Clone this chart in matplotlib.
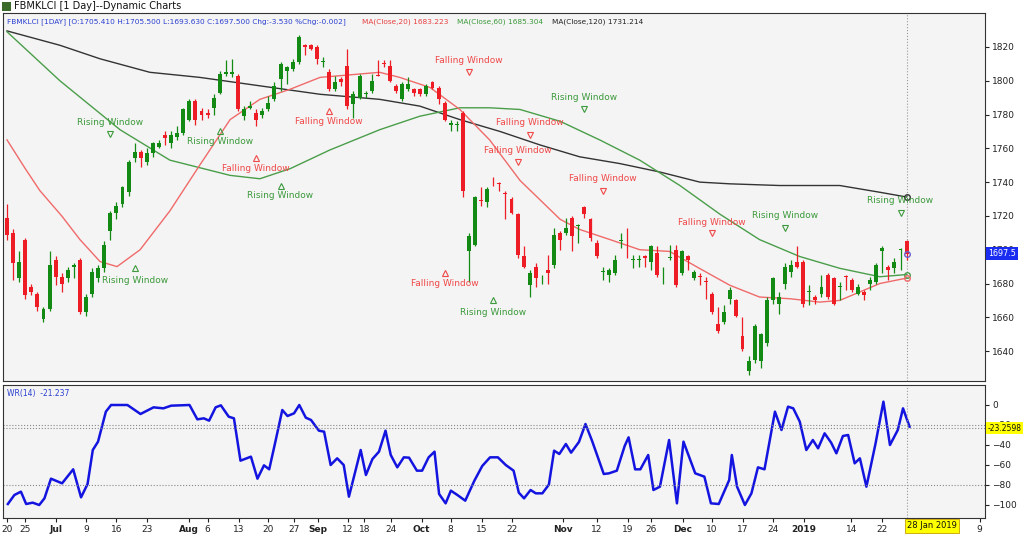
import numpy as np
import matplotlib
matplotlib.use("Agg")
import matplotlib.pyplot as plt

# ---------------- data ----------------
opens = [1719,1710,1683,1706,1678,1674,1659,1665,1694,1684,1683,1690,1694,1663,1674,1683,1689,1711,1722,1727,
         1734,1754,1758,1752,1757,1761,1768,1763,1767,1769,1777,1788,1782,1781,1784,1793,1804,1804,1803,1779,
         1784,1781,1780,1783,1789,1801,1806,1807,1811,1821,1821,1820,1811,1805,1795,1801,1809,1786,1790,1792,
         1794,1803.5,1810.5,1809,1797,1789,1795,1795,1795,1792,1799,1796,1787,1774,1774,1781,1699,1703,1729.5,1728,
         1741.5,1739.5,1733.5,1730,1721,1696,1679,1690,1683,1688,1691,1710,1710,1719,1714,1725,1718,1704,1687,1685,
         1686,1705,1712.5,1694,1694,1696,1693,1698,1686,1695,1700,1686,1696,1683,1684.5,1681.5,1674,1656,1657,1671,
         1670,1649,1628,1635,1634,1645,1670,1668,1680,1687,1693,1693,1675,1672,1674,1685,1683,1678,1684.5,1682,
         1674,1675,1680,1681,1699,1690,1689,1700,1705.41]
closes = [1709,1692,1693,1673,1675,1666,1665,1691,1684,1680,1688,1691,1663,1672,1687,1689,1703,1722,1726,1737,
          1752,1758,1754,1757,1763,1763,1766,1768,1769,1783,1788,1777,1780,1780,1790,1804,1805,1805,1783,1783,
          1785,1777,1782,1787,1797,1810,1808,1811,1826,1820,1819,1813,1811.5,1795,1799,1799,1785,1792,1803,1792.5,
          1800,1803,1810,1800,1794,1798,1798,1793,1792,1797,1796,1789,1777,1775,1774.5,1735,1708,1731,1729,1736,
          1741,1739,1733,1722,1697,1690,1686,1683,1683.5,1686,1709,1706,1713,1708,1714.5,1721,1707,1696,1687.5,1688,
          1694,1705.5,1712,1694.5,1694.5,1695,1702,1685,1686.5,1695.5,1679,1699,1694,1687,1684,1681,1663,1652,1663,1676,
          1661,1641,1634,1655,1650,1670,1683,1672,1690,1691,1690,1668,1675.5,1670,1678,1672,1668,1678.5,1684,1676,
          1678,1673,1682,1691,1701,1688,1693,1700.5,1697.5]
highs = [1727,1712,1699,1707,1680,1675,1666,1699,1696,1686,1690,1692,1695,1674,1689,1691,1705,1723,1728,1738,
         1753,1763,1759,1760,1764,1765,1770,1770,1773,1784,1789,1789,1784,1783,1792,1806,1812,1813,1804,1785,
         1788,1783,1784,1791,1799,1811,1809,1813,1827,1822,1822,1821,1814,1807,1803,1802,1819,1794,1804,1794,
         1804,1812,1812,1812,1798,1799,1802,1796,1796,1798,1800,1797,1788,1777,1776,1782,1710,1732,1737,1737,
         1743,1740,1735,1731,1722,1702,1688,1692,1685,1697,1713,1711,1719,1720,1715,1726,1719,1706,1690,1689,
         1697,1710,1713,1697,1697,1697,1703,1702,1690,1703,1703,1700,1697,1688,1686,1684,1675,1666,1667,1678,
         1671,1660,1637,1656,1651,1672,1684,1675,1692,1694,1702,1694,1679,1673,1685,1686,1684,1681,1685,1683,
         1680,1676,1684,1692,1702,1691,1695,1701,1705.5]
lows = [1706,1682,1681,1671,1673,1664,1657,1664,1679,1675,1681,1683,1662,1661,1672,1681,1687,1706,1718,1725,
        1732,1752,1749,1750,1755,1760,1762,1760,1765,1768,1776,1774,1777,1778,1780,1792,1803,1802,1782,1777,
        1783,1773,1778,1782,1788,1794,1798,1806,1810,1815,1818,1810,1808,1794,1794,1797,1783,1778,1789,1790,
        1793,1803,1808,1799,1793,1788,1794,1791,1791,1791,1795,1786,1776,1770,1770,1731,1681,1702,1726,1725,
        1738,1735,1718,1721,1695,1689,1672,1678,1680,1680,1689,1700,1709,1699,1704,1719,1705,1695,1682,1681,
        1685,1701,1695,1689,1690,1690,1688,1684,1680,1694,1678,1685,1688,1682,1679,1671,1662,1651,1656,1668,
        1660,1640,1626,1633,1630,1643,1668,1662,1677,1684,1689,1666,1667,1668,1672,1671,1667,1670,1676,1675,
        1673,1670,1676,1680,1686,1682,1686,1688,1693.63]

ma20_idx = [0, 3, 5.4, 9, 12, 15.3, 18.1, 21.9, 26.8, 31.7, 36.7, 41.6, 46.6, 51.5, 54.8, 61.3, 64.6, 69.6, 74.5,
            79.4, 84.4, 91, 94.2, 99.2, 104.1, 109, 113.9, 118.9, 123.8, 128.8, 133.7, 137, 140.3, 143.6, 148]
ma20_val = [1765, 1748, 1735, 1720, 1706, 1693, 1690, 1700, 1723, 1750, 1777, 1789, 1795, 1802, 1803, 1805, 1802,
            1796, 1783, 1765, 1741, 1718, 1712, 1706, 1700, 1699, 1689, 1679, 1672, 1671, 1669, 1670, 1675, 1680,
            1683.2]
ma60_idx = [0, 8.7, 18.6, 26.8, 36.7, 41.6, 46.6, 53.1, 61.3, 67.9, 74.5, 79.4, 84.4, 91, 97.5, 104.1, 110.7,
            117.3, 123.8, 130.4, 137, 143.6, 148]
ma60_val = [1829, 1800, 1771, 1753, 1744, 1742, 1748, 1759, 1771, 1779, 1784, 1784, 1783, 1776, 1765, 1753, 1738,
            1721, 1706, 1696, 1689, 1684, 1685.3]
ma120_idx = [0, 8.7, 15.3, 23.5, 31.7, 41.6, 51.5, 61.3, 67.9, 74.5, 81.1, 87.7, 94.2, 100.8, 107.4, 114,
             118.9, 127.1, 137, 143.6, 148]
ma120_val = [1829.5, 1821, 1813, 1805, 1802, 1797, 1792, 1789, 1785, 1777, 1770, 1762, 1755, 1751, 1746, 1740,
             1739, 1738, 1738, 1734, 1731.2]

wr_xz = [12,22,32,40,50,60,68,78,95,112,124,134,142,150,162,170,195,215,235,250,262,290,302,312,320,330,338,350,
         358,368,384,394,404,412,422,432,440,450,458,468,476,488,496,506,516,526,534,552,560,570,580,590,598,608,
         618,626,638,646,656,665,672,682,690,700,712,726,738,750,762,774,786,794,802,812,820,830,840,848,856,866,
         874,886,896,906,924,932,944,956,962,972,980,992,1000,1010,1024,1036,1046,1064,1078,1088,1100,1116,1120,
         1128,1140,1150,1160,1170,1186,1196,1206,1214,1224,1234,1244,1252,1262,1272,1280,1290,1298,1308,1316,1326,
         1340,1352,1362,1374,1382,1392]
wr_yz = [372,345,335,372,368,375,355,296,310,268,352,312,210,185,95,75,75,102,82,85,77,75,118,115,122,82,76,110,
         115,242,230,296,256,268,180,90,108,100,75,113,120,152,155,255,235,255,350,210,285,237,215,152,225,262,
         232,233,272,272,232,215,342,370,332,345,362,302,258,232,232,255,272,338,355,330,340,340,314,212,222,192,
         218,186,132,182,282,280,272,198,172,268,268,225,330,320,180,370,185,280,290,370,372,300,225,320,375,340,
         262,268,95,150,80,85,125,210,180,205,160,188,220,168,165,250,235,320,190,65,195,150,85,140]
wr_idx = [(x / 1.53 - 7) / 6.08 for x in wr_xz]
wr_val = [-(y - 75) / 3.0 for y in wr_yz]

tick_pos = [0, 3, 8, 13, 18, 23, 30, 33, 38.1, 43, 47.2, 51.2, 56.1, 58.8, 63.1, 68.2, 73, 78.1, 83, 91.5, 97,
            102.1, 106, 111.2, 116, 121.1, 126, 131.1, 138.9, 144, 149, 160]
tick_lab = ["20", "25", "Jul", "9", "16", "23", "Aug", "6", "13", "20", "27", "Sep", "12", "18", "24", "Oct", "8",
            "15", "22", "Nov", "12", "19", "26", "Dec", "10", "17", "24", "2019", "14", "22", "2", "9"]
bold_lab = {"Jul", "Aug", "Sep", "Oct", "Nov", "Dec", "2019"}

patterns = [
    ("Rising Window", 17, 1775, 1768.5, "v"), ("Rising Window", 35, 1764, 1770, "^"),
    ("Falling Window", 41, 1748, 1754, "^"), ("Falling Window", 53, 1776, 1782, "^"),
    ("Rising Window", 45, 1732, 1738, "^"), ("Falling Window", 76, 1812, 1805, "v"),
    ("Rising Window", 95, 1790, 1783, "v"), ("Falling Window", 86, 1775, 1768, "v"),
    ("Falling Window", 84, 1759, 1752, "v"), ("Falling Window", 98, 1742, 1735, "v"),
    ("Falling Window", 116, 1716, 1710, "v"), ("Rising Window", 128, 1720, 1713, "v"),
    ("Rising Window", 147, 1729, 1722, "v"), ("Falling Window", 72, 1680, 1686, "^"),
    ("Rising Window", 80, 1663, 1670, "^"), ("Rising Window", 21, 1682, 1689, "^"),
]

GREEN = "#138a13"
RED = "#ee1c25"
BG = "#f4f4f4"

fig = plt.figure(figsize=(10.24, 5.45), dpi=100)
fig.patch.set_facecolor("white")
W, H = 1024, 545

def rect(l, t, r, b):
    return [l / W, 1 - b / H, (r - l) / W, (b - t) / H]

ax = fig.add_axes(rect(3, 13, 985, 381))
ax2 = fig.add_axes(rect(3, 385, 985, 518), sharex=ax)
for a in (ax, ax2):
    a.set_facecolor(BG)
    for s in a.spines.values():
        s.set_color("#333333")
        s.set_linewidth(0.8)

n = len(closes)
idx = np.arange(n)
o = np.array(opens); c = np.array(closes); hi = np.array(highs); lo = np.array(lows)
up = c >= o
cols = np.where(up, GREEN, RED)
ax.vlines(idx, lo, hi, colors=cols, linewidth=0.9, zorder=3)
ax.bar(idx, np.maximum(np.abs(c - o), 0.5), bottom=np.minimum(o, c), width=0.65, color=cols,
       linewidth=0, zorder=4)

ax.plot(ma120_idx, ma120_val, color="#333333", lw=1.0, zorder=2)
ax.plot(ma60_idx, ma60_val, color="#4a9e4a", lw=1.0, zorder=2)
ax.plot(ma20_idx, ma20_val, color="#f06a6a", lw=1.0, zorder=2)
for xs, vs, col in ((ma120_idx, ma120_val, "#333333"), (ma60_idx, ma60_val, "#4a9e4a"),
                    (ma20_idx, ma20_val, "#f06a6a")):
    ax.plot(xs[-1], vs[-1], "o", ms=4, mfc="none", mec=col, zorder=5)
ax.plot(n - 1, c[-1], "o", ms=4, mfc="none", mec="#6a5acd", zorder=5)

for txt, i, tp, mp, d in patterns:
    col = "#3c9a3c" if txt.startswith("Rising") else "#f04848"
    ax.text(i, tp, txt, color=col, fontsize=6.5, ha="center", va="center", zorder=6)
    ax.plot(i, mp, marker=d, ms=5, mfc="none", mec=col, mew=0.8, zorder=6)

ax.set_xlim(-0.66, 160.9)
ax.set_ylim(1622.3, 1840.1)
ax.yaxis.tick_right()
ax.set_yticks(range(1640, 1821, 20))
ax.tick_params(axis="y", labelsize=6.5, length=3, pad=2, colors="#222222")
ax.tick_params(axis="x", bottom=False, labelbottom=False)
ax.axvline(n - 1, color="#999999", ls=":", lw=0.8)

t0 = ax.text(0.004, 0.985,
             "FBMKLCI [1DAY] [O:1705.410 H:1705.500 L:1693.630 C:1697.500 Chg:-3.530 %Chg:-0.002]",
             transform=ax.transAxes, fontsize=5.3, color="#2a3fd0", va="top")
t1 = ax.annotate("MA(Close,20) 1683.223", xy=(1, 0), xycoords=t0, xytext=(12, 0), textcoords="offset points",
                 fontsize=5.3, color="#e84040", va="bottom")
t2 = ax.annotate("MA(Close,60) 1685.304", xy=(1, 0), xycoords=t1, xytext=(6, 0), textcoords="offset points",
                 fontsize=5.3, color="#3c9a3c", va="bottom")
ax.annotate("MA(Close,120) 1731.214", xy=(1, 0), xycoords=t2, xytext=(6, 0), textcoords="offset points",
            fontsize=5.3, color="#222222", va="bottom")
ax.text(1.003, 1697.5, "1697.5", transform=ax.get_yaxis_transform(), fontsize=5.8, color="white",
        va="center", ha="left",
        bbox=dict(boxstyle="square,pad=0.25", fc="#1a2cf0", ec="none"), zorder=10)

fig.text(14 / W, 1 - 6 / H, "FBMKLCI [1 Day]--Dynamic Charts", fontsize=7, va="center", color="#111111")
fig.patches.append(plt.Rectangle((2 / W, 1 - 11 / H), 9 / W, 9 / H, transform=fig.transFigure,
                                 fc="#3a6b2a", ec="none"))

# WR panel
ax2.plot(wr_idx, wr_val, color="#1414e0", lw=1.8)
ax2.axhline(-20, color="#888888", ls=":", lw=0.8)
ax2.axhline(-80, color="#888888", ls=":", lw=0.8)
ax2.axhline(-23.26, color="#888888", ls=":", lw=0.8)
ax2.axvline(n - 1, color="#999999", ls=":", lw=0.8)
ax2.set_ylim(-113, 20)
ax2.yaxis.tick_right()
ax2.set_yticks([0, -20, -40, -60, -80, -100])
ax2.tick_params(axis="y", labelsize=6.5, length=3, pad=2, colors="#222222")
ax2.text(0.004, 0.97, "WR(14)  -21.237", transform=ax2.transAxes, fontsize=5.5, color="#2a3fd0", va="top")
ax2.text(1.003, -23.26, "-23.2598", transform=ax2.get_yaxis_transform(), fontsize=5.5, color="#111111",
         va="center", ha="left",
         bbox=dict(boxstyle="square,pad=0.2", fc="#ffff00", ec="none"), zorder=10)

ax2.set_xticks(tick_pos)
ax2.set_xticklabels(tick_lab)
ax2.tick_params(axis="x", labelsize=6.5, length=3, pad=2, colors="#222222")
for t in ax2.get_xticklabels():
    if t.get_text() in bold_lab:
        t.set_fontweight("bold")
ax2.text(n - 1, -121, "28 Jan 2019", fontsize=6, ha="left", va="center", color="#111111",
         bbox=dict(boxstyle="square,pad=0.25", fc="#ffff00", ec="#c8a000", lw=0.6), zorder=10, clip_on=False)

fig.savefig("out.png", dpi=100)
